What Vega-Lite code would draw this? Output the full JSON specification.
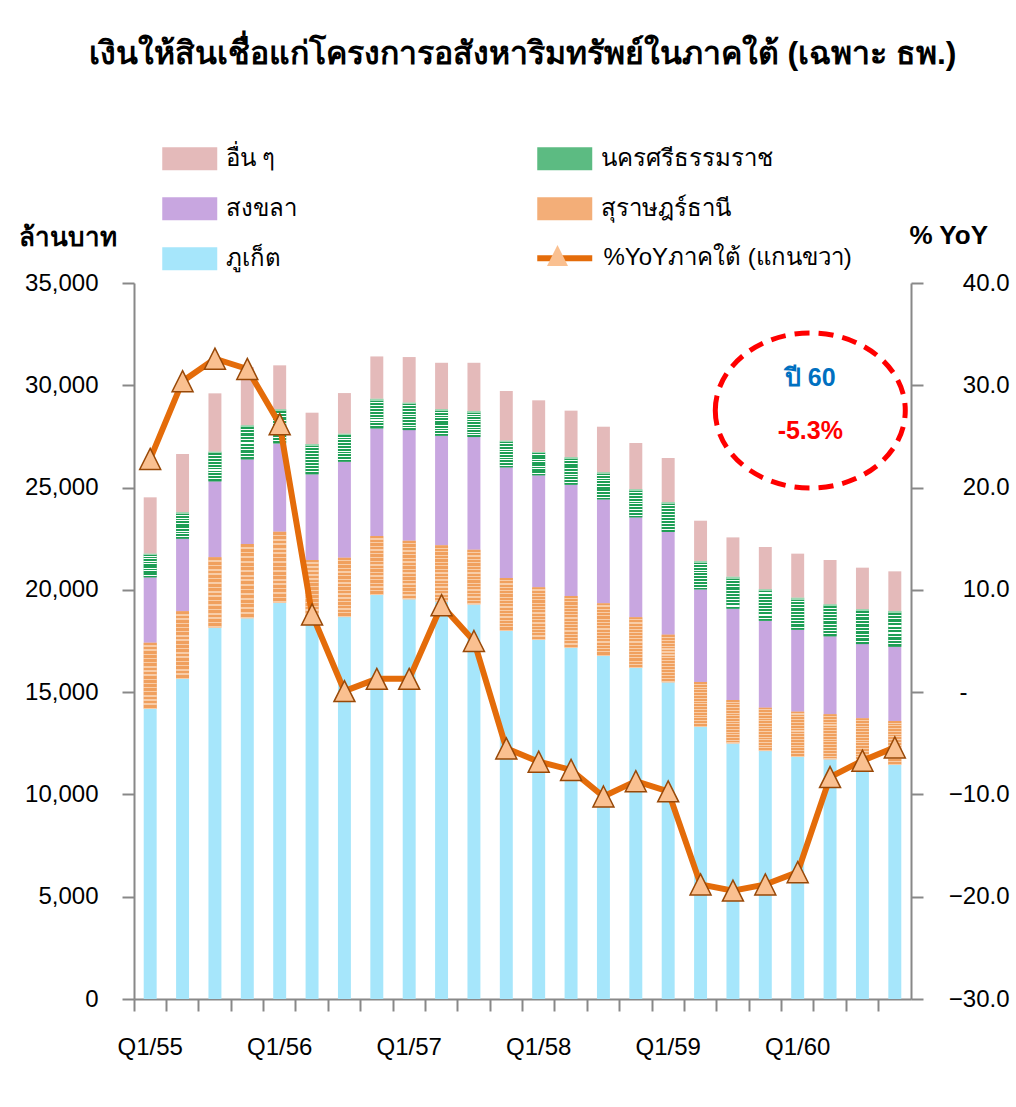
{
  "$schema": "https://vega.github.io/schema/vega-lite/v6.json",
  "width": 777,
  "height": 716,
  "autosize": "none",
  "padding": {"left": 134, "top": 283, "right": 105, "bottom": 108},
  "background": "white",
  "title": {
    "text": "เงินให้สินเชื่อแก่โครงการอสังหาริมทรัพย์ในภาคใต้ (เฉพาะ ธพ.)",
    "fontSize": 32,
    "fontWeight": "bold",
    "color": "#000000",
    "anchor": "middle",
    "frame": "group",
    "baseline": "alphabetic",
    "offset": 49
  },
  "config": {
    "font": "Liberation Sans",
    "view": {"stroke": null},
    "axis": {
      "labelFont": "Liberation Sans",
      "labelColor": "#000000",
      "labelFontSize": 24,
      "domainColor": "#888888",
      "tickColor": "#888888",
      "domainWidth": 2,
      "tickWidth": 2,
      "tickSize": 12,
      "grid": false,
      "titleColor": "#000000"
    },
    "axisX": {
      "bandPosition": 0,
      "labelOffset": 0,
      "labelAngle": 0,
      "labelPadding": 24,
      "labelOverlap": false,
      "zindex": 1,
      "labelExpr": "slice(datum.value, 0, 2) == 'Q1' ? datum.value : ''"
    },
    "legend": {"labelFontSize": 24, "labelColor": "#000000", "padding": 0, "labelFont": "Liberation Sans", "labelLimit": 0}
  },
  "datasets": {
    "loans": [
      {"q": "Q1/55", "phuket": 14175, "surat": 3242, "songkhla": 3196, "nakhon": 1153, "other": 2757, "yoy": 22.8},
      {"q": "Q2/55", "phuket": 15640, "surat": 3310, "songkhla": 3550, "nakhon": 1290, "other": 2850, "yoy": 30.4},
      {"q": "Q3/55", "phuket": 18150, "surat": 3440, "songkhla": 3715, "nakhon": 1448, "other": 2853, "yoy": 32.6},
      {"q": "Q4/55", "phuket": 18610, "surat": 3630, "songkhla": 4140, "nakhon": 1660, "other": 2850, "yoy": 31.6},
      {"q": "Q1/56", "phuket": 19370, "surat": 3470, "songkhla": 4320, "nakhon": 1665, "other": 2150, "yoy": 26.2},
      {"q": "Q2/56", "phuket": 18400, "surat": 3060, "songkhla": 4190, "nakhon": 1480, "other": 1530, "yoy": 7.6},
      {"q": "Q3/56", "phuket": 18670, "surat": 2900, "songkhla": 4695, "nakhon": 1365, "other": 1990, "yoy": 0.1},
      {"q": "Q4/56", "phuket": 19750, "surat": 2880, "songkhla": 5265, "nakhon": 1445, "other": 2070, "yoy": 1.3},
      {"q": "Q1/57", "phuket": 19540, "surat": 2860, "songkhla": 5410, "nakhon": 1340, "other": 2230, "yoy": 1.3},
      {"q": "Q2/57", "phuket": 19420, "surat": 2755, "songkhla": 5360, "nakhon": 1290, "other": 2275, "yoy": 8.5},
      {"q": "Q3/57", "phuket": 19290, "surat": 2670, "songkhla": 5510, "nakhon": 1270, "other": 2360, "yoy": 5.0},
      {"q": "Q4/57", "phuket": 18000, "surat": 2580, "songkhla": 5410, "nakhon": 1300, "other": 2430, "yoy": -5.5},
      {"q": "Q1/58", "phuket": 17550, "surat": 2575, "songkhla": 5475, "nakhon": 1140, "other": 2525, "yoy": -6.8},
      {"q": "Q2/58", "phuket": 17170, "surat": 2530, "songkhla": 5440, "nakhon": 1340, "other": 2280, "yoy": -7.6},
      {"q": "Q3/58", "phuket": 16780, "surat": 2560, "songkhla": 5085, "nakhon": 1320, "other": 2230, "yoy": -10.2},
      {"q": "Q4/58", "phuket": 16180, "surat": 2480, "songkhla": 4885, "nakhon": 1370, "other": 2265, "yoy": -8.7},
      {"q": "Q1/59", "phuket": 15480, "surat": 2330, "songkhla": 5020, "nakhon": 1450, "other": 2165, "yoy": -9.7},
      {"q": "Q2/59", "phuket": 13310, "surat": 2185, "songkhla": 4530, "nakhon": 1385, "other": 1970, "yoy": -18.8},
      {"q": "Q3/59", "phuket": 12495, "surat": 2120, "songkhla": 4465, "nakhon": 1560, "other": 1925, "yoy": -19.4},
      {"q": "Q4/59", "phuket": 12120, "surat": 2120, "songkhla": 4250, "nakhon": 1535, "other": 2070, "yoy": -18.8},
      {"q": "Q1/60", "phuket": 11830, "surat": 2215, "songkhla": 4005, "nakhon": 1565, "other": 2155, "yoy": -17.6},
      {"q": "Q2/60", "phuket": 11715, "surat": 2205, "songkhla": 3810, "nakhon": 1560, "other": 2170, "yoy": -8.3},
      {"q": "Q3/60", "phuket": 11540, "surat": 2180, "songkhla": 3630, "nakhon": 1700, "other": 2035, "yoy": -6.7},
      {"q": "Q4/60", "phuket": 11440, "surat": 2150, "songkhla": 3630, "nakhon": 1745, "other": 1940, "yoy": -5.4}
    ],
    "series": [
      {"key": "phuket", "name": "ภูเก็ต", "rank": 0},
      {"key": "surat", "name": "สุราษฎร์ธานี", "rank": 1},
      {"key": "songkhla", "name": "สงขลา", "rank": 2},
      {"key": "nakhon", "name": "นครศรีธรรมราช", "rank": 3},
      {"key": "other", "name": "อื่น ๆ", "rank": 4}
    ],
    "note": [
      {"q": "Q1/60", "v": 30357, "label": "ปี 60"},
      {"q": "Q1/60", "v": 27765, "label": "-5.3%"},
      {"q": "Q1/60", "v": 28768, "label": "ring"}
    ]
  },
  "layer": [
    {
      "data": {"name": "loans"},
      "transform": [
        {"fold": ["phuket", "surat", "songkhla", "nakhon", "other"], "as": ["key", "value"]},
        {"lookup": "key", "from": {"data": {"name": "series"}, "key": "key", "fields": ["name", "rank"]}},
        {"stack": "value", "groupby": ["q"], "sort": [{"field": "rank", "order": "ascending"}], "as": ["v0", "v1"]}
      ],
      "mark": {"type": "bar", "width": {"band": 0.4}},
      "encoding": {
        "x": {
          "field": "q", "type": "ordinal", "sort": null,
          "scale": {"type": "band", "paddingInner": 0, "paddingOuter": 0, "domain": ["Q1/55","Q2/55","Q3/55","Q4/55","Q1/56","Q2/56","Q3/56","Q4/56","Q1/57","Q2/57","Q3/57","Q4/57","Q1/58","Q2/58","Q3/58","Q4/58","Q1/59","Q2/59","Q3/59","Q4/59","Q1/60","Q2/60","Q3/60","Q4/60"]},
          "axis": {"title": null}
        },
        "y": {
          "field": "v0", "type": "quantitative",
          "scale": {"domain": [0, 35000], "nice": false, "zero": true},
          "axis": {
            "values": [0, 5000, 10000, 15000, 20000, 25000, 30000, 35000],
            "format": ",.0f",
            "labelPadding": 24,
            "zindex": 1,
            "title": "ล้านบาท",
            "titleAngle": 0,
            "titleAlign": "left",
            "titleBaseline": "alphabetic",
            "titleX": -116,
            "titleY": -38,
            "titleFontSize": 26,
            "titleFontWeight": "bold"
          }
        },
        "y2": {"field": "v1"},
        "color": {
          "field": "name", "type": "nominal",
          "scale": {
            "domain": ["อื่น ๆ", "สงขลา", "ภูเก็ต", "นครศรีธรรมราช", "สุราษฎร์ธานี"],
            "range": ["#e4baba", "#c8a6e0", "#a6e6fb", "#5cbb82", "#f3ae78"]
          },
          "legend": {
            "orient": "none",
            "legendX": 41.75,
            "legendY": -138.25,
            "columns": 2,
            "title": null,
            "symbolType": "M-2,-0.84H2V0.84H-2Z",
            "symbolSize": 756,
            "symbolStrokeWidth": 0,
            "labelOffset": 21.75,
            "rowPadding": 24,
            "columnPadding": 240
          }
        }
      }
    },
    {
      "data": {"name": "loans"},
      "transform": [
        {"fold": ["phuket", "surat", "songkhla", "nakhon", "other"], "as": ["key", "value"]},
        {"lookup": "key", "from": {"data": {"name": "series"}, "key": "key", "fields": ["name", "rank"]}},
        {"stack": "value", "groupby": ["q"], "sort": [{"field": "rank", "order": "ascending"}], "as": ["v0", "v1"]},
        {"filter": "datum.key == 'nakhon'"}
      ],
      "mark": {
        "type": "bar",
        "width": {"band": 0.4},
        "fill": {
          "gradient": "linear", "x1": 0, "y1": 0, "x2": 0, "y2": 1,
          "stops": [
            {"offset": 0, "color": "#9ad8b2"}, {"offset": 0.06, "color": "#9ad8b2"},
            {"offset": 0.06, "color": "#1e9e55"}, {"offset": 0.1, "color": "#1e9e55"},
            {"offset": 0.1, "color": "#ffffff"}, {"offset": 0.135, "color": "#ffffff"},
            {"offset": 0.135, "color": "#1e9e55"}, {"offset": 0.2, "color": "#1e9e55"},
            {"offset": 0.2, "color": "#ffffff"}, {"offset": 0.235, "color": "#ffffff"},
            {"offset": 0.235, "color": "#1e9e55"}, {"offset": 0.3, "color": "#1e9e55"},
            {"offset": 0.3, "color": "#ffffff"}, {"offset": 0.335, "color": "#ffffff"},
            {"offset": 0.335, "color": "#1e9e55"}, {"offset": 0.4, "color": "#1e9e55"},
            {"offset": 0.4, "color": "#ffffff"}, {"offset": 0.435, "color": "#ffffff"},
            {"offset": 0.435, "color": "#1e9e55"}, {"offset": 0.5, "color": "#1e9e55"},
            {"offset": 0.5, "color": "#ffffff"}, {"offset": 0.535, "color": "#ffffff"},
            {"offset": 0.535, "color": "#1e9e55"}, {"offset": 0.6, "color": "#1e9e55"},
            {"offset": 0.6, "color": "#ffffff"}, {"offset": 0.635, "color": "#ffffff"},
            {"offset": 0.635, "color": "#1e9e55"}, {"offset": 0.7, "color": "#1e9e55"},
            {"offset": 0.7, "color": "#ffffff"}, {"offset": 0.735, "color": "#ffffff"},
            {"offset": 0.735, "color": "#1e9e55"}, {"offset": 0.8, "color": "#1e9e55"},
            {"offset": 0.8, "color": "#ffffff"}, {"offset": 0.835, "color": "#ffffff"},
            {"offset": 0.835, "color": "#1e9e55"}, {"offset": 0.9, "color": "#1e9e55"},
            {"offset": 0.9, "color": "#ffffff"}, {"offset": 0.935, "color": "#ffffff"},
            {"offset": 0.935, "color": "#1e9e55"}, {"offset": 1, "color": "#1e9e55"}
          ]
        }
      },
      "encoding": {
        "x": {"field": "q", "type": "ordinal", "sort": null, "axis": {"title": null}},
        "y": {"field": "v0", "type": "quantitative", "scale": {"domain": [0, 35000], "nice": false}, "axis": null},
        "y2": {"field": "v1"}
      }
    },
    {
      "data": {"name": "loans"},
      "transform": [
        {"fold": ["phuket", "surat", "songkhla", "nakhon", "other"], "as": ["key", "value"]},
        {"lookup": "key", "from": {"data": {"name": "series"}, "key": "key", "fields": ["name", "rank"]}},
        {"stack": "value", "groupby": ["q"], "sort": [{"field": "rank", "order": "ascending"}], "as": ["v0", "v1"]},
        {"filter": "datum.key == 'surat'"}
      ],
      "mark": {
        "type": "bar",
        "width": {"band": 0.4},
        "fill": {
          "gradient": "linear", "x1": 0, "y1": 0, "x2": 0, "y2": 1,
          "stops": [
            {"offset": 0, "color": "#f0a05e"}, {"offset": 0.04, "color": "#f0a05e"},
            {"offset": 0.04, "color": "#f8cda8"}, {"offset": 0.0625, "color": "#f8cda8"},
            {"offset": 0.0625, "color": "#f0a05e"}, {"offset": 0.1025, "color": "#f0a05e"},
            {"offset": 0.1025, "color": "#f8cda8"}, {"offset": 0.125, "color": "#f8cda8"},
            {"offset": 0.125, "color": "#f0a05e"}, {"offset": 0.165, "color": "#f0a05e"},
            {"offset": 0.165, "color": "#f8cda8"}, {"offset": 0.1875, "color": "#f8cda8"},
            {"offset": 0.1875, "color": "#f0a05e"}, {"offset": 0.2275, "color": "#f0a05e"},
            {"offset": 0.2275, "color": "#f8cda8"}, {"offset": 0.25, "color": "#f8cda8"},
            {"offset": 0.25, "color": "#f0a05e"}, {"offset": 0.29, "color": "#f0a05e"},
            {"offset": 0.29, "color": "#f8cda8"}, {"offset": 0.3125, "color": "#f8cda8"},
            {"offset": 0.3125, "color": "#f0a05e"}, {"offset": 0.3525, "color": "#f0a05e"},
            {"offset": 0.3525, "color": "#f8cda8"}, {"offset": 0.375, "color": "#f8cda8"},
            {"offset": 0.375, "color": "#f0a05e"}, {"offset": 0.415, "color": "#f0a05e"},
            {"offset": 0.415, "color": "#f8cda8"}, {"offset": 0.4375, "color": "#f8cda8"},
            {"offset": 0.4375, "color": "#f0a05e"}, {"offset": 0.4775, "color": "#f0a05e"},
            {"offset": 0.4775, "color": "#f8cda8"}, {"offset": 0.5, "color": "#f8cda8"},
            {"offset": 0.5, "color": "#f0a05e"}, {"offset": 0.54, "color": "#f0a05e"},
            {"offset": 0.54, "color": "#f8cda8"}, {"offset": 0.5625, "color": "#f8cda8"},
            {"offset": 0.5625, "color": "#f0a05e"}, {"offset": 0.6025, "color": "#f0a05e"},
            {"offset": 0.6025, "color": "#f8cda8"}, {"offset": 0.625, "color": "#f8cda8"},
            {"offset": 0.625, "color": "#f0a05e"}, {"offset": 0.665, "color": "#f0a05e"},
            {"offset": 0.665, "color": "#f8cda8"}, {"offset": 0.6875, "color": "#f8cda8"},
            {"offset": 0.6875, "color": "#f0a05e"}, {"offset": 0.7275, "color": "#f0a05e"},
            {"offset": 0.7275, "color": "#f8cda8"}, {"offset": 0.75, "color": "#f8cda8"},
            {"offset": 0.75, "color": "#f0a05e"}, {"offset": 0.79, "color": "#f0a05e"},
            {"offset": 0.79, "color": "#f8cda8"}, {"offset": 0.8125, "color": "#f8cda8"},
            {"offset": 0.8125, "color": "#f0a05e"}, {"offset": 0.8525, "color": "#f0a05e"},
            {"offset": 0.8525, "color": "#f8cda8"}, {"offset": 0.875, "color": "#f8cda8"},
            {"offset": 0.875, "color": "#f0a05e"}, {"offset": 0.915, "color": "#f0a05e"},
            {"offset": 0.915, "color": "#f8cda8"}, {"offset": 0.9375, "color": "#f8cda8"},
            {"offset": 0.9375, "color": "#f0a05e"}, {"offset": 0.9775, "color": "#f0a05e"},
            {"offset": 0.9775, "color": "#f8cda8"}, {"offset": 1, "color": "#f8cda8"}
          ]
        }
      },
      "encoding": {
        "x": {"field": "q", "type": "ordinal", "sort": null, "axis": {"title": null}},
        "y": {"field": "v0", "type": "quantitative", "scale": {"domain": [0, 35000], "nice": false}, "axis": null},
        "y2": {"field": "v1"}
      }
    },
    {
      "data": {"name": "note"},
      "transform": [{"filter": "datum.label == 'ปี 60'"}],
      "mark": {"type": "text", "xOffset": 12.6, "fontSize": 25, "fontWeight": "bold", "color": "#0070c0", "baseline": "middle", "align": "center"},
      "encoding": {
        "x": {"field": "q", "type": "ordinal", "sort": null, "axis": {"title": null}},
        "y": {"field": "v", "type": "quantitative", "scale": {"domain": [0, 35000], "nice": false}, "axis": null},
        "text": {"field": "label"}
      }
    },
    {
      "data": {"name": "note"},
      "transform": [{"filter": "datum.label == '-5.3%'"}],
      "mark": {"type": "text", "xOffset": 12.6, "fontSize": 25, "fontWeight": "bold", "color": "#ff0000", "baseline": "middle", "align": "center"},
      "encoding": {
        "x": {"field": "q", "type": "ordinal", "sort": null, "axis": {"title": null}},
        "y": {"field": "v", "type": "quantitative", "scale": {"domain": [0, 35000], "nice": false}, "axis": null},
        "text": {"field": "label"}
      }
    },
    {
      "data": {"name": "note"},
      "transform": [{"filter": "datum.label == 'ring'"}],
      "mark": {"type": "point", "shape": "M-1,0A1,0.816 0 1,1 1,0A1,0.816 0 1,1 -1,0Z", "size": 36100, "filled": false, "stroke": "#ff0000", "strokeWidth": 5, "strokeDash": [15, 9], "xOffset": 12.6, "opacity": 1},
      "encoding": {
        "x": {"field": "q", "type": "ordinal", "sort": null, "axis": {"title": null}},
        "y": {"field": "v", "type": "quantitative", "scale": {"domain": [0, 35000], "nice": false}, "axis": null}
      }
    },
    {
      "data": {"name": "loans"},
      "mark": {"type": "line", "strokeWidth": 6},
      "encoding": {
        "x": {"field": "q", "type": "ordinal", "sort": null, "axis": {"title": null}},
        "y": {
          "field": "yoy", "type": "quantitative",
          "scale": {"domain": [-30, 40], "nice": false, "zero": false},
          "axis": {
            "orient": "right",
            "values": [-30, -20, -10, 0, 10, 20, 30, 40],
            "labelExpr": "datum.value == 0 ? '-' : format(datum.value, '.1f')",
            "labelAlign": "right",
            "labelPadding": {"condition": {"test": "datum.value == 0", "value": 44}, "value": 86},
            "zindex": 1,
            "title": "% YoY",
            "titleAngle": 0,
            "titleAlign": "left",
            "titleBaseline": "alphabetic",
            "titleX": -2,
            "titleY": -40,
            "titleFontSize": 26,
            "titleFontWeight": "bold"
          }
        },
        "stroke": {
          "datum": "%YoYภาคใต้ (แกนขวา)",
          "scale": {"range": ["#e46c0a"]},
          "legend": {
            "orient": "none",
            "legendX": 413.75,
            "legendY": -41.75,
            "title": null,
            "symbolType": "M-2,0H2",
            "symbolSize": 756,
            "symbolStrokeWidth": 6,
            "labelOffset": 21.75
          }
        }
      }
    },
    {
      "data": {"name": "loans"},
      "mark": {"type": "point", "filled": true, "fill": "#fac090", "stroke": "#984807", "strokeWidth": 1.5, "size": 441, "opacity": 1},
      "encoding": {
        "x": {"field": "q", "type": "ordinal", "sort": null, "axis": {"title": null}},
        "y": {"field": "yoy", "type": "quantitative", "scale": {"domain": [-30, 40], "nice": false, "zero": false}, "axis": null},
        "shape": {
          "datum": "tri",
          "scale": {"range": ["M0,-1L1,1H-1Z"]},
          "legend": {
            "orient": "none",
            "legendX": 411.5,
            "legendY": -39.5,
            "title": null,
            "labelExpr": "''",
            "symbolSize": 441,
            "symbolFillColor": "#fac090",
            "symbolStrokeColor": "#984807",
            "symbolStrokeWidth": 1.5
          }
        }
      }
    }
  ],
  "resolve": {"scale": {"y": "independent"}}
}
